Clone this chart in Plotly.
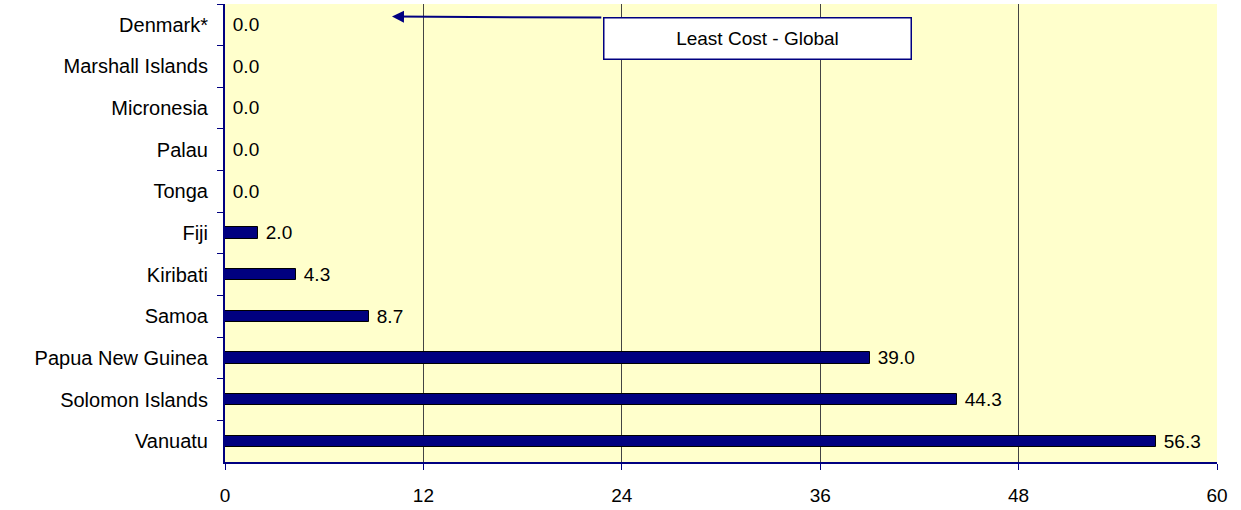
import plotly.graph_objects as go

# Countries, top to bottom, and their values
countries = ["Denmark*", "Marshall Islands", "Micronesia", "Palau", "Tonga", "Fiji",
             "Kiribati", "Samoa", "Papua New Guinea", "Solomon Islands", "Vanuatu"]
values = [0.0, 0.0, 0.0, 0.0, 0.0, 2.0, 4.3, 8.7, 39.0, 44.3, 56.3]
x_ticks = [0, 12, 24, 36, 48, 60]

NAVY = "#000080"
FONT = "Liberation Sans, Arial, sans-serif"

fig = go.Figure(go.Bar(
    x=values, y=countries, orientation="h",
    width=0.27,
    marker=dict(color=NAVY, line=dict(color="#000000", width=1)),
    text=[f" {v:.1f}" for v in values],
    textposition="outside", cliponaxis=False, constraintext="none",
    textfont=dict(family=FONT, size=19, color="#000000"),
))

fig.update_layout(
    width=1241, height=510,
    margin=dict(l=225, r=24, t=4, b=46),
    paper_bgcolor="#FFFFFF", plot_bgcolor="#FFFFCC",
    font=dict(family=FONT, size=19, color="#000000"),
    showlegend=False,
    bargap=0,
    xaxis=dict(range=[0, 60], tickvals=x_ticks, ticks="outside", ticklen=6,
               tickcolor=NAVY, showline=True, linecolor=NAVY, linewidth=2,
               showgrid=True, gridcolor="#444444", gridwidth=1, zeroline=False,
               tickfont=dict(size=19), ticklabelstandoff=9, fixedrange=True),
    yaxis=dict(autorange="reversed", ticks="outside", ticklen=6, tickcolor=NAVY,
               tickson="boundaries", showline=True, linecolor=NAVY, linewidth=2,
               showgrid=False, tickfont=dict(size=20), ticklabelstandoff=11,
               fixedrange=True),
)

# Callout box with an arrow pointing to the top row
fig.add_annotation(
    xref="x", yref="paper", x=32.2, y=0.925, xanchor="center", yanchor="middle",
    text="Least Cost - Global", showarrow=False,
    font=dict(size=19, color="#000000"),
    bgcolor="#FFFFFF", bordercolor=NAVY, borderwidth=1.5,
    width=304, height=38, align="center",
)
fig.add_annotation(
    xref="x", yref="paper", axref="x", ayref="y",
    x=10.1, y=0.9725, ax=22.85, ay=0.9725,
    showarrow=True, arrowhead=2, arrowsize=1.2, arrowwidth=2, arrowcolor=NAVY,
    text="",
)

fig.write_html("out.html")
